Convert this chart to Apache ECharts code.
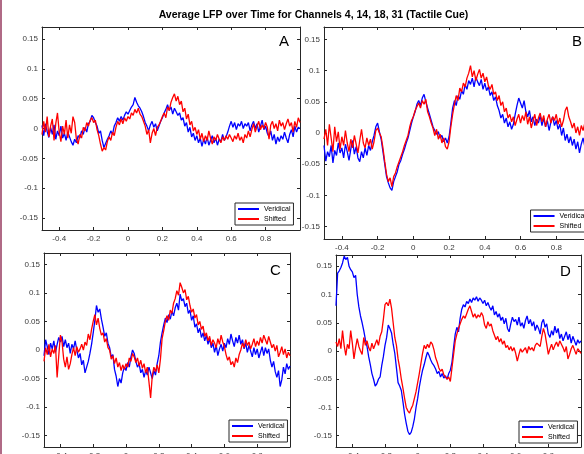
<!DOCTYPE html>
<html>
<head>
<meta charset="utf-8">
<title>Average LFP over Time</title>
<script src="https://cdn.jsdelivr.net/npm/echarts@6/dist/echarts.min.js"></script>
<style>
  html, body { margin: 0; padding: 0; background: #fff; }
  #chart { width: 584px; height: 454px; }
</style>
</head>
<body>
<div id="chart"></div>
<script>
// sampling of every trace: t = t0 + i * dt, i = 0..150
const t0 = -0.5;
const dt = 0.01;

const xTicks = [-0.4, -0.2, 0, 0.2, 0.4, 0.6, 0.8];
const yTicks = [-0.15, -0.1, -0.05, 0, 0.05, 0.1, 0.15];
const seriesNames = ['Veridical', 'Shifted'];
const panelLetters = ['A', 'B', 'C', 'D'];
const titleText = 'Average LFP over Time for Channels 4, 14, 18, 31 (Tactile Cue)';

// channel 4
const veridicalA = [
    0.005, -0.012, 0.008, -0.005, -0.015, 0.002, -0.010, 0.006, -0.018, -0.004,
    -0.012, 0.004, -0.016, -0.008, -0.020, -0.006, -0.014, -0.022, -0.028, -0.018,
    -0.024, -0.012, -0.016, -0.004, -0.010, 0.002, -0.006, 0.008, 0.012, 0.022,
    0.018, 0.010, 0.004, -0.008, -0.004, -0.020, -0.032, -0.030, -0.018, -0.012,
    -0.004, -0.010, 0.004, 0.010, 0.018, 0.012, 0.020, 0.014, 0.022, 0.028,
    0.024, 0.030, 0.036, 0.040, 0.052, 0.044, 0.038, 0.034, 0.028, 0.020,
    0.010, 0.004, -0.004, 0.006, 0.012, 0.002, 0.008, -0.004, 0.004, 0.012,
    0.018, 0.026, 0.032, 0.040, 0.030, 0.036, 0.024, 0.034, 0.028, 0.022,
    0.026, 0.014, 0.018, 0.004, 0.010, -0.006, 0.002, -0.014, -0.008, -0.020,
    -0.012, -0.024, -0.016, -0.030, -0.018, -0.026, -0.014, -0.028, -0.020, -0.012,
    -0.024, -0.016, -0.028, -0.018, -0.022, -0.010, -0.020, -0.014, -0.006, 0.004,
    0.012, 0.002, 0.010, -0.002, 0.008, 0.004, 0.012, 0.000, 0.008, 0.004,
    0.010, -0.004, 0.006, 0.012, 0.000, 0.008, -0.006, 0.004, 0.014, -0.002,
    0.004, -0.008, -0.014, -0.004, -0.020, -0.010, -0.026, -0.014, -0.022, -0.012,
    -0.018, -0.006, -0.016, -0.024, -0.010, -0.002, -0.014, 0.004, -0.006, 0.002,
    0.000
];
const shiftedA = [
    -0.010, 0.012, -0.006, 0.020, -0.014, 0.004, 0.016, -0.020, 0.008, 0.026,
    -0.006, -0.022, 0.004, -0.010, 0.014, -0.016, 0.006, -0.008, 0.020, 0.010,
    -0.018, -0.026, -0.010, -0.016, 0.002, -0.004, 0.010, 0.004, 0.014, 0.018,
    0.010, 0.014, -0.002, -0.012, -0.026, -0.038, -0.032, -0.036, -0.022, -0.014,
    -0.020, -0.006, -0.012, 0.002, 0.012, 0.006, 0.016, 0.008, 0.018, 0.012,
    0.020, 0.016, 0.026, 0.022, 0.032, 0.026, 0.034, 0.024, 0.020, 0.012,
    0.004, -0.010, -0.002, -0.024, -0.008, 0.000, -0.012, 0.002, 0.006, 0.012,
    0.020, 0.026, 0.018, 0.036, 0.030, 0.044, 0.052, 0.058, 0.046, 0.054,
    0.040, 0.046, 0.028, 0.034, 0.016, 0.024, 0.006, 0.012, -0.004, 0.002,
    -0.010, -0.002, -0.018, -0.008, -0.022, -0.012, -0.020, -0.004, -0.016, -0.026,
    -0.014, -0.020, -0.010, -0.018, -0.024, -0.014, -0.020, -0.012, -0.018, -0.010,
    -0.016, -0.022, -0.012, -0.018, -0.008, -0.020, -0.014, -0.024, -0.010, -0.016,
    -0.004, -0.014, -0.002, 0.008, -0.006, 0.004, 0.012, -0.002, 0.006, 0.000,
    0.010, 0.002, -0.018, 0.006, 0.012, 0.000, 0.008, -0.004, 0.014, 0.004,
    0.010, -0.002, 0.008, 0.016, 0.004, 0.010, -0.006, 0.012, 0.002, 0.018,
    0.010
];

// channel 14
const veridicalB = [
    -0.020, -0.045, -0.030, -0.038, -0.020, -0.048, -0.028, -0.036, -0.016, -0.032,
    -0.024, -0.040, -0.018, -0.030, -0.044, -0.026, -0.012, -0.034, -0.022, -0.040,
    -0.046, -0.030, -0.040, -0.024, -0.036, -0.020, -0.028, -0.014, -0.004, 0.010,
    0.016, 0.002, -0.010, -0.030, -0.050, -0.070, -0.080, -0.088, -0.092, -0.078,
    -0.070, -0.062, -0.050, -0.044, -0.034, -0.026, -0.016, -0.008, 0.004, 0.016,
    0.026, 0.034, 0.046, 0.052, 0.044, 0.056, 0.062, 0.050, 0.040, 0.030,
    0.020, 0.010, 0.004, -0.002, 0.002, -0.008, -0.004, -0.014, -0.008, -0.016,
    -0.006, 0.016, 0.040, 0.052, 0.044, 0.060, 0.054, 0.068, 0.062, 0.078,
    0.070, 0.084, 0.078, 0.088, 0.074, 0.090, 0.082, 0.076, 0.086, 0.070,
    0.080, 0.068, 0.074, 0.060, 0.066, 0.052, 0.058, 0.044, 0.036, 0.024,
    0.030, 0.016, 0.024, 0.010, 0.018, 0.006, 0.014, 0.030, 0.044, 0.056,
    0.048, 0.040, 0.052, 0.034, 0.026, 0.036, 0.018, 0.026, 0.012, 0.022,
    0.016, 0.028, 0.012, 0.024, 0.010, 0.020, 0.004, 0.018, 0.026, 0.012,
    0.020, 0.006, 0.014, -0.004, 0.008, -0.012, -0.002, -0.016, -0.006, -0.020,
    -0.010, -0.026, -0.014, -0.032, -0.018, -0.008, -0.022, -0.012, -0.028, -0.016,
    -0.010
];
const shiftedB = [
    -0.010, 0.006, -0.020, 0.014, -0.008, -0.030, 0.010, -0.014, 0.002, -0.026,
    -0.006, -0.020, 0.004, -0.016, -0.030, -0.010, -0.024, -0.004, -0.018, -0.032,
    -0.012, 0.006, -0.016, -0.024, -0.008, -0.020, -0.010, -0.026, -0.014, 0.004,
    0.008, 0.000, -0.006, -0.024, -0.046, -0.066, -0.078, -0.072, -0.086, -0.070,
    -0.064, -0.054, -0.046, -0.038, -0.030, -0.020, -0.012, -0.004, 0.010, 0.020,
    0.026, 0.036, 0.042, 0.048, 0.040, 0.052, 0.046, 0.054, 0.034, 0.026,
    0.016, 0.008, -0.004, 0.006, -0.010, -0.002, -0.016, -0.008, -0.022, -0.026,
    -0.014, 0.010, 0.030, 0.046, 0.060, 0.052, 0.072, 0.066, 0.080, 0.074,
    0.088, 0.096, 0.108, 0.090, 0.100, 0.084, 0.094, 0.102, 0.088, 0.096,
    0.082, 0.090, 0.076, 0.070, 0.078, 0.062, 0.066, 0.052, 0.060, 0.044,
    0.050, 0.034, 0.040, 0.024, 0.030, 0.018, 0.026, 0.012, 0.022, 0.030,
    0.016, 0.028, 0.020, 0.034, 0.014, 0.026, 0.008, 0.020, 0.030, 0.012,
    0.024, 0.032, 0.018, 0.028, 0.010, 0.022, 0.030, 0.016, 0.026, 0.020,
    0.030, 0.014, 0.024, 0.010, 0.020, 0.036, 0.042, 0.026, 0.018, 0.008,
    0.016, 0.000, 0.010, -0.004, 0.012, 0.004, 0.016, 0.000, 0.010, 0.004,
    0.008
];

// channel 18
const veridicalC = [
    -0.010, 0.018, 0.006, -0.008, 0.012, 0.002, 0.016, -0.004, 0.010, 0.022,
    0.014, 0.024, 0.006, 0.018, 0.004, 0.012, -0.006, 0.010, 0.002, 0.016,
    0.000, -0.014, -0.006, -0.026, -0.018, -0.040, -0.030, -0.020, -0.006, 0.010,
    0.030, 0.052, 0.078, 0.066, 0.072, 0.054, 0.040, 0.024, 0.030, 0.012,
    0.004, -0.012, -0.008, -0.034, -0.046, -0.064, -0.050, -0.058, -0.040, -0.030,
    -0.036, -0.022, -0.030, -0.012, 0.000, -0.006, -0.020, -0.030, -0.024, -0.040,
    -0.034, -0.048, -0.036, -0.044, -0.030, -0.040, -0.050, -0.036, -0.044, -0.024,
    -0.010, 0.014, 0.030, 0.044, 0.056, 0.048, 0.062, 0.054, 0.068, 0.060,
    0.074, 0.082, 0.070, 0.098, 0.086, 0.090, 0.076, 0.082, 0.064, 0.070,
    0.052, 0.060, 0.040, 0.046, 0.030, 0.038, 0.022, 0.030, 0.016, 0.026,
    0.010, 0.020, 0.004, 0.012, -0.004, 0.008, -0.010, 0.002, 0.010, -0.002,
    0.012, 0.004, 0.020, 0.010, 0.028, 0.016, 0.006, 0.022, 0.012, 0.026,
    0.010, 0.018, 0.002, 0.012, -0.004, 0.008, -0.002, -0.012, 0.004, -0.008,
    0.002, -0.014, -0.004, 0.006, -0.010, 0.004, -0.006, 0.002, -0.018, -0.030,
    -0.020, -0.038, -0.048, -0.036, -0.064, -0.052, -0.030, -0.042, -0.024, -0.034,
    -0.028
];
const shiftedC = [
    -0.020, 0.004, -0.008, 0.010, -0.012, 0.002, -0.006, 0.008, -0.048, -0.010,
    0.026, 0.014, -0.016, -0.030, -0.012, -0.034, -0.024, -0.008, 0.004, -0.010,
    0.006, -0.004, 0.002, 0.010, 0.000, 0.014, 0.008, 0.028, 0.018, 0.036,
    0.050, 0.062, 0.044, 0.056, 0.038, 0.026, 0.030, 0.014, 0.020, 0.004,
    0.000, -0.016, -0.010, -0.024, -0.014, -0.030, -0.022, -0.036, -0.026, -0.034,
    -0.024, -0.030, -0.014, -0.020, -0.006, -0.012, -0.022, -0.014, -0.028, -0.018,
    -0.032, -0.024, -0.040, -0.030, -0.056, -0.084, -0.046, -0.030, -0.038, -0.026,
    -0.040, -0.016, 0.020, 0.034, 0.050, 0.060, 0.052, 0.070, 0.064, 0.082,
    0.090, 0.104, 0.096, 0.118, 0.110, 0.100, 0.106, 0.088, 0.094, 0.078,
    0.066, 0.072, 0.056, 0.062, 0.044, 0.050, 0.036, 0.042, 0.024, 0.030,
    0.016, 0.024, 0.008, 0.018, 0.012, 0.004, 0.020, 0.010, 0.026, 0.014,
    0.006, -0.008, -0.018, -0.012, -0.026, -0.020, -0.030, -0.014, -0.022, -0.008,
    0.000, 0.012, 0.004, 0.018, 0.008, 0.014, 0.002, 0.010, 0.020, 0.006,
    0.016, 0.008, 0.022, 0.012, 0.026, 0.018, 0.010, 0.024, 0.014, 0.004,
    0.010, -0.002, 0.008, -0.012, -0.004, 0.006, -0.008, 0.002, -0.014, -0.004,
    -0.010
];

// channel 31
const veridicalD = [
    0.080, 0.138, 0.142, 0.148, 0.156, 0.168, 0.162, 0.166, 0.150, 0.144,
    0.140, 0.130, 0.134, 0.100, 0.078, 0.062, 0.050, 0.036, 0.020, 0.008,
    -0.010, -0.024, -0.040, -0.050, -0.062, -0.058, -0.050, -0.046, -0.026, -0.010,
    0.010, 0.024, 0.046, 0.040, 0.032, 0.012, -0.004, -0.030, -0.056, -0.062,
    -0.070, -0.090, -0.112, -0.128, -0.142, -0.148, -0.144, -0.134, -0.120, -0.100,
    -0.084, -0.064, -0.048, -0.034, -0.024, -0.012, -0.002, -0.008, -0.016, -0.022,
    -0.026, -0.032, -0.040, -0.036, -0.046, -0.040, -0.048, -0.044, -0.050, -0.040,
    -0.034, -0.020, 0.006, 0.030, 0.042, 0.034, 0.058, 0.074, 0.082, 0.078,
    0.088, 0.084, 0.092, 0.086, 0.094, 0.090, 0.096, 0.088, 0.094, 0.090,
    0.084, 0.090, 0.080, 0.086, 0.078, 0.072, 0.080, 0.064, 0.070, 0.060,
    0.066, 0.054, 0.060, 0.048, 0.058, 0.040, 0.034, 0.048, 0.060, 0.052,
    0.056, 0.046, 0.060, 0.044, 0.050, 0.040, 0.054, 0.062, 0.048, 0.056,
    0.044, 0.052, 0.036, 0.046, 0.040, 0.030, 0.050, 0.056, 0.042, 0.048,
    0.030, 0.024, 0.036, 0.028, 0.044, 0.032, 0.040, 0.022, 0.030, 0.018,
    0.026, 0.034, 0.020, 0.030, 0.014, 0.026, 0.018, 0.010, 0.020, 0.014,
    0.018
];
const shiftedD = [
    0.016, 0.008, 0.022, 0.004, 0.036, 0.010, -0.008, 0.012, 0.004, 0.036,
    0.014, -0.014, 0.006, 0.022, 0.008, 0.000, -0.006, 0.024, 0.010, 0.018,
    0.006, 0.000, 0.014, 0.004, 0.012, 0.020, 0.010, 0.026, 0.034, 0.056,
    0.082, 0.086, 0.080, 0.092, 0.076, 0.050, 0.024, 0.010, -0.014, -0.030,
    -0.050, -0.066, -0.084, -0.100, -0.106, -0.110, -0.102, -0.096, -0.084, -0.072,
    -0.056, -0.040, -0.022, -0.004, 0.010, 0.004, 0.012, 0.006, 0.016, 0.012,
    0.002, -0.012, -0.020, -0.030, -0.036, -0.032, -0.042, -0.040, -0.050, -0.046,
    -0.054, -0.030, -0.006, 0.018, 0.030, 0.040, 0.048, 0.056, 0.062, 0.058,
    0.066, 0.074, 0.080, 0.070, 0.060, 0.066, 0.058, 0.064, 0.060, 0.068,
    0.062, 0.046, 0.040, 0.052, 0.044, 0.048, 0.036, 0.028, 0.020, 0.026,
    0.016, 0.022, 0.012, 0.018, 0.006, 0.010, 0.002, 0.008, 0.000, 0.006,
    -0.004, -0.018, -0.006, 0.004, -0.002, 0.000, 0.006, -0.004, 0.008, 0.002,
    0.006, 0.000, 0.010, 0.014, 0.016, 0.008, 0.026, 0.040, 0.030, 0.012,
    -0.006, 0.004, 0.012, 0.002, 0.010, 0.016, 0.008, 0.018, 0.012, 0.006,
    -0.002, 0.008, -0.014, -0.006, 0.004, 0.010, 0.002, -0.006, 0.004, 0.000,
    -0.004
];

const veridicalData = [veridicalA, veridicalB, veridicalC, veridicalD];
const shiftedData = [shiftedA, shiftedB, shiftedC, shiftedD];

// layout of the four axes boxes (px); panel B runs past the right edge of the figure
const panels = [
    { grid: { left: 42, top: 27, width: 258, height: 203 }, letter: [279, 42], legend: { left: 235, top: 203 } },
    { grid: { left: 324, top: 27, width: 268, height: 212 }, letter: [572, 42], legend: { right: -5, top: 210 } },
    { grid: { left: 44, top: 253, width: 246, height: 194 }, letter: [270, 271], legend: { left: 229, top: 420 } },
    { grid: { left: 336, top: 255, width: 245, height: 192 }, letter: [560, 272], legend: { left: 519, top: 421 } }
];

const font = '"Liberation Sans", Arial, Helvetica, sans-serif';
const axisColor = '#262626';
const labelColor = '#3a3a3a';
const blue = '#0000ff';
const red = '#ff0000';

function toPoints(values) {
    return values.map((v, i) => [+(t0 + i * dt).toFixed(3), v]);
}

function xAxisFor(g, top) {
    return {
        type: 'value',
        gridIndex: g,
        position: top ? 'top' : 'bottom',
        min: -0.5,
        max: 1.0,
        axisLine: { show: true, onZero: false, lineStyle: { color: axisColor, width: 1 } },
        axisTick: { show: true, inside: true, length: 3, customValues: xTicks, lineStyle: { color: axisColor } },
        axisLabel: {
            show: !top, customValues: xTicks, margin: 5,
            fontSize: 8, color: labelColor, fontFamily: font
        },
        splitLine: { show: false }
    };
}

function yAxisFor(g, right) {
    return {
        type: 'value',
        gridIndex: g,
        position: right ? 'right' : 'left',
        min: -0.17,
        max: 0.17,
        axisLine: { show: true, onZero: false, lineStyle: { color: axisColor, width: 1 } },
        axisTick: { show: true, inside: true, length: 3, customValues: yTicks, lineStyle: { color: axisColor } },
        axisLabel: {
            show: !right, customValues: yTicks, margin: 4,
            fontSize: 8, color: labelColor, fontFamily: font
        },
        splitLine: { show: false }
    };
}

const grids = [];
const xAxes = [];
const yAxes = [];
const series = [];
const legends = [];
const graphics = [
    { type: 'rect', shape: { x: 0, y: 0, width: 2, height: 454 }, style: { fill: '#b06a86' } },
    {
        type: 'text', x: 313.5, y: 15,
        style: {
            text: titleText, fill: '#000', textAlign: 'center', textVerticalAlign: 'middle',
            font: 'bold 10.5px ' + font
        }
    }
];

panels.forEach((p, g) => {
    grids.push(Object.assign({ containLabel: false, outerBoundsMode: 'none' }, p.grid));
    xAxes.push(xAxisFor(g, false), xAxisFor(g, true));
    yAxes.push(yAxisFor(g, false), yAxisFor(g, true));
    series.push({
        name: seriesNames[0], type: 'line', xAxisIndex: 2 * g, yAxisIndex: 2 * g,
        data: toPoints(veridicalData[g]), symbol: 'none', clip: true,
        lineStyle: { color: blue, width: 1.3 }, itemStyle: { color: blue }
    });
    series.push({
        name: seriesNames[1], type: 'line', xAxisIndex: 2 * g, yAxisIndex: 2 * g,
        data: toPoints(shiftedData[g]), symbol: 'none', clip: true,
        lineStyle: { color: red, width: 1.3 }, itemStyle: { color: red }
    });
    legends.push(Object.assign({
        data: seriesNames,
        orient: 'vertical',
        icon: 'rect',
        itemWidth: 21,
        itemHeight: 2,
        itemGap: 2,
        padding: [2, 3, 2, 3],
        backgroundColor: '#fff',
        borderColor: axisColor,
        borderWidth: 1,
        borderRadius: 0,
        selectedMode: false,
        textStyle: { fontSize: 7, lineHeight: 8, color: '#000', fontFamily: font }
    }, p.legend));
    graphics.push({
        type: 'text', x: p.letter[0], y: p.letter[1],
        style: {
            text: panelLetters[g], fill: '#000', textVerticalAlign: 'middle',
            font: '15px ' + font
        }
    });
});

const chart = echarts.init(document.getElementById('chart'), null, { renderer: 'canvas' });
chart.setOption({
    animation: false,
    backgroundColor: '#fff',
    grid: grids,
    xAxis: xAxes,
    yAxis: yAxes,
    legend: legends,
    series: series,
    graphic: graphics
});
</script>
</body>
</html>
